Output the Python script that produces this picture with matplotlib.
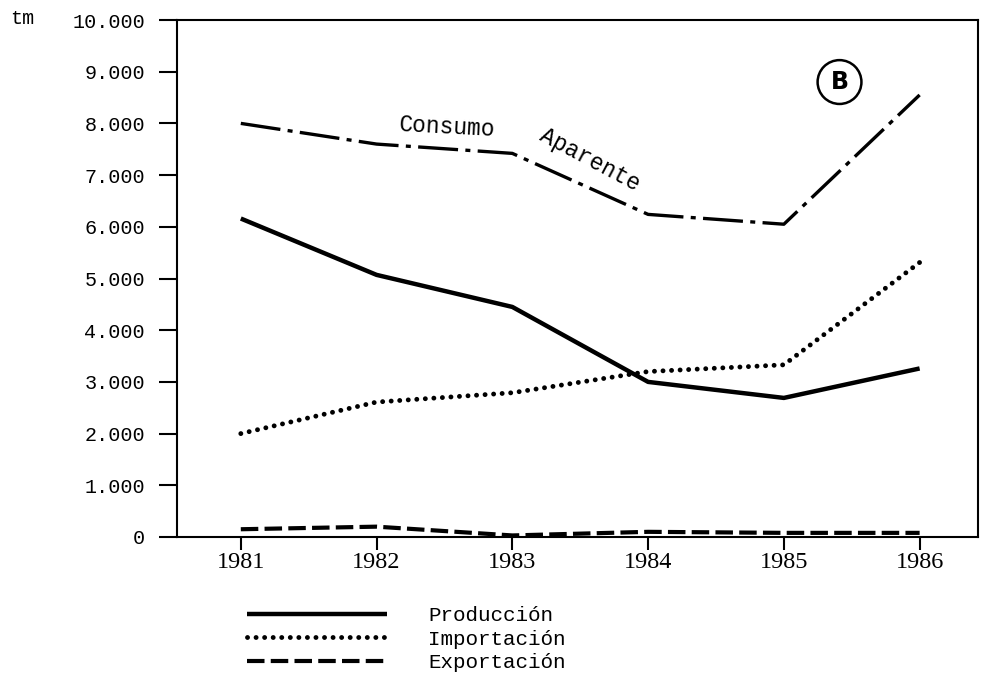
import matplotlib
matplotlib.use("Agg")
import matplotlib.pyplot as plt

# values (tm)
years = [1981, 1982, 1983, 1984, 1985, 1986]
consumo = [8000, 7600, 7420, 6240, 6050, 8550]
produccion = [6160, 5070, 4450, 3000, 2690, 3260]
importacion = [2000, 2610, 2790, 3200, 3330, 5310]
exportacion = [150, 200, 30, 100, 80, 80]

y_ticks = [0, 1000, 2000, 3000, 4000, 5000, 6000, 7000, 8000, 9000, 10000]
y_labels = ["0", "1.000", "2.000", "3.000", "4.000", "5.000",
            "6.000", "7.000", "8.000", "9.000", "10.000"]
series_labels = ["Producción", "Importación", "Exportación"]

mono = "Liberation Mono"

fig = plt.figure(figsize=(9.87, 6.78), dpi=100)
ax = fig.add_axes([177 / 987, 1 - 537 / 678, (978 - 177) / 987, (537 - 20) / 678])

l_prod, = ax.plot(years, produccion, color="black", lw=3.2,
                  solid_capstyle="butt", solid_joinstyle="round")
l_imp, = ax.plot(years, importacion, color="black", lw=3.5,
                 linestyle=(0, (0.01, 1.75)), dash_capstyle="round")
l_exp, = ax.plot(years, exportacion, color="black", lw=3.0,
                 linestyle=(0, (4.2, 1.5)), dash_capstyle="butt")
ax.plot(years, consumo, color="black", lw=2.4,
        linestyle=(0, (12, 2.2, 1.5, 2.2)), dash_capstyle="butt")

ax.set_xlim(1980.53, 1986.43)
ax.set_ylim(0, 10000)
ax.set_xticks(years)
ax.set_xticklabels([str(y) for y in years], fontfamily="Liberation Serif", fontsize=17.5)
ax.set_yticks(y_ticks)
ax.set_yticklabels(y_labels, fontfamily=mono, fontsize=14.5)
ax.tick_params(axis="y", direction="out", length=13, width=1.5, pad=10)
ax.tick_params(axis="x", direction="out", length=9, width=1.5, pad=2)
for s in ax.spines.values():
    s.set_linewidth(1.5)

fig.text(10 / 987, 1 - 19 / 678, "tm", fontfamily=mono, fontsize=14.5,
         va="center", ha="left")

# line label for apparent consumption
ax.text(1982.52, 7930, "Consumo", fontfamily=mono, fontsize=16.5,
        rotation=-3, ha="center", va="center", rotation_mode="anchor")
ax.text(1983.57, 7290, "Aparente", fontfamily=mono, fontsize=16.5,
        rotation=-28, ha="center", va="center", rotation_mode="anchor")

ax.text(1985.41, 8800, "B", fontfamily="DejaVu Sans", fontweight="bold",
        fontsize=17, ha="center", va="center",
        bbox=dict(boxstyle="circle,pad=0.42", fc="white", ec="black", lw=1.8))

fig.legend([l_prod, l_imp, l_exp], series_labels, loc="upper left",
           bbox_to_anchor=(247 / 987, 1 - 606 / 678), frameon=False,
           prop={"family": mono, "size": 15}, handlelength=6.7,
           handletextpad=2.0, labelspacing=0.22, borderpad=0, borderaxespad=0)

fig.savefig("out.png", dpi=100)
